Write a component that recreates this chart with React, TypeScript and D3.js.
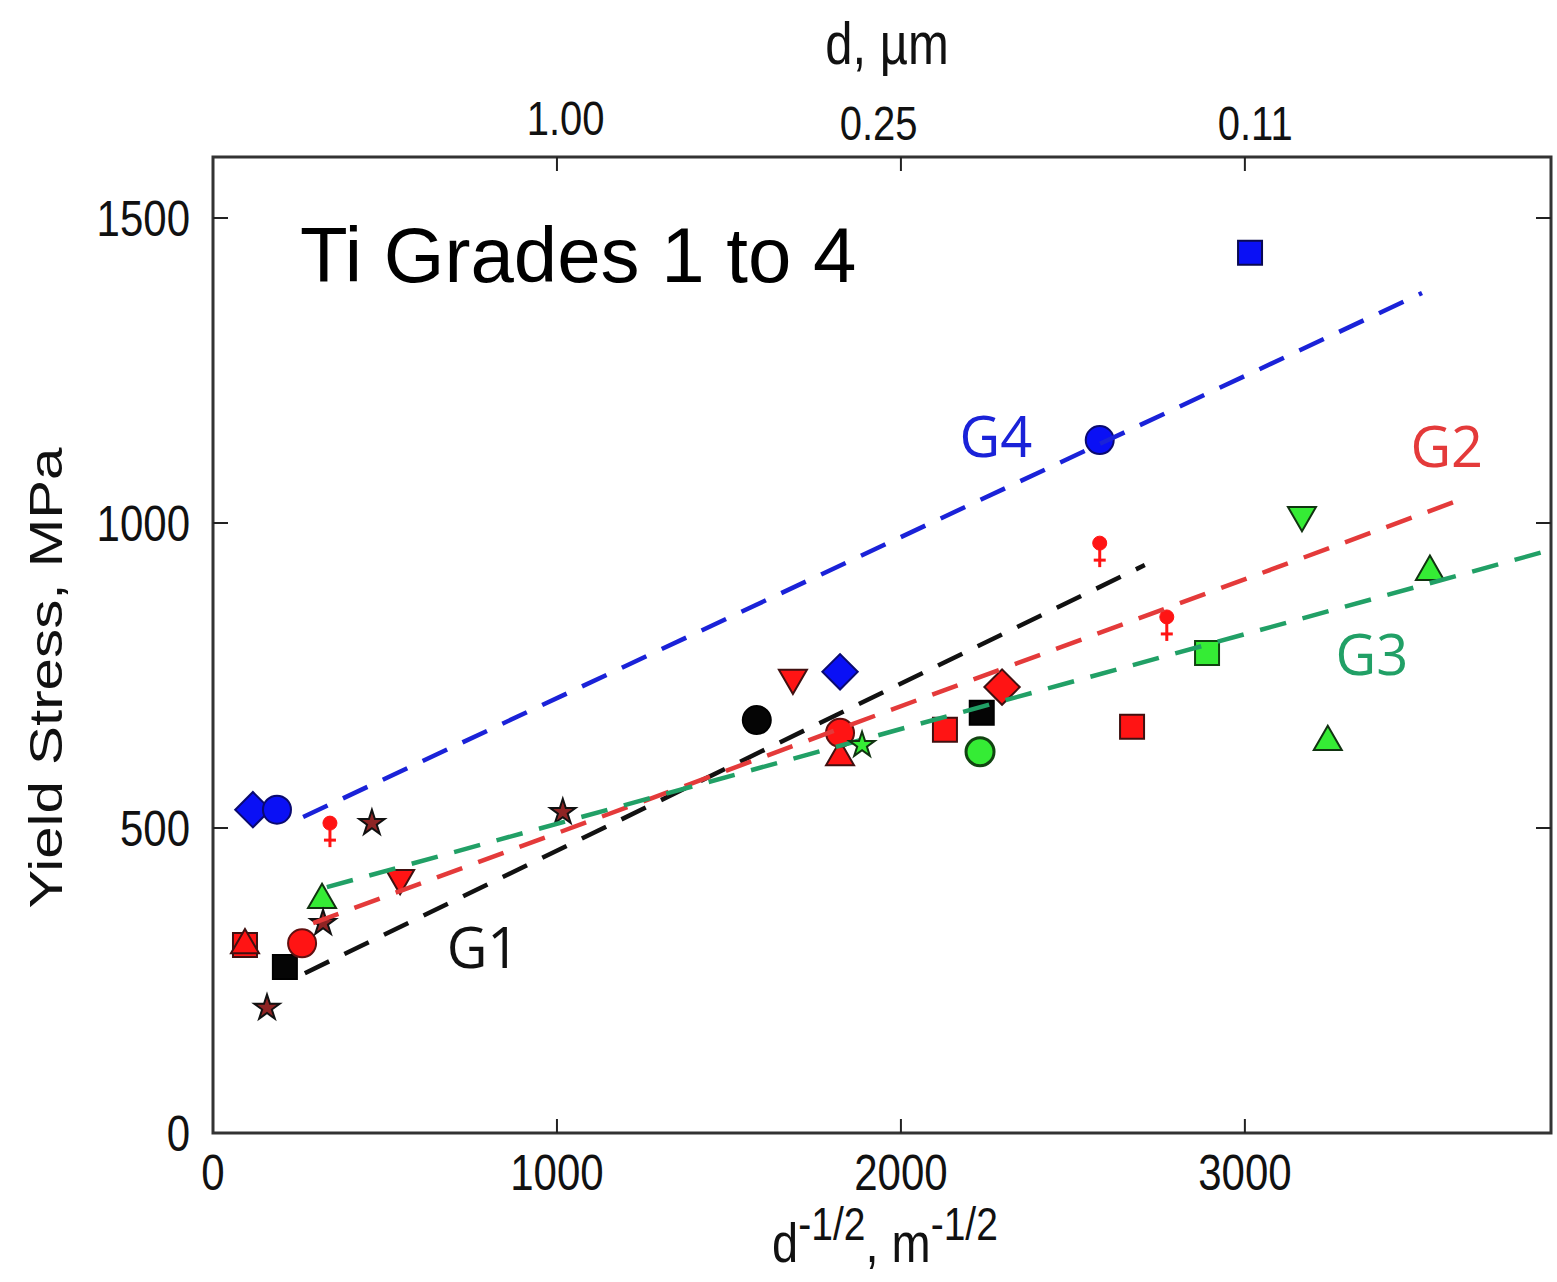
import React from "react";
import * as d3 from "d3";

// ---------- data ----------
const xTicks = [0, 1000, 2000, 3000];
const yTicks = [0, 500, 1000, 1500];
const topTicks = [1000, 2000, 3000];
const topTickLabels = ["1.00", "0.25", "0.11"];
const topLabelPos = [1025, 1935, 3030];

const blueDiamonds = [[116, 530], [1823, 756]];
const blueCircles = [[186, 530], [2578, 1136]];
const blueSquares = [[3015, 1443]];
const redFemale = [[340, 508], [2578, 967], [2773, 846]];
const brownStars = [[462, 508], [157, 205], [320, 344], [1017, 526]];
const greenStars = [[1887, 636]];
const greenTriangles = [[317, 382], [3241, 641], [3538, 920]];
const greenDownTriangles = [[3166, 1013]];
const redDownTriangles = [[544, 418], [1686, 746]];
const redSquares = [[93, 308], [2128, 661], [2672, 666]];
const redTriangles = [[93, 308], [1823, 616]];
const redCircles = [[259, 311], [1823, 656]];
const blackSquares = [[209, 272], [2235, 689]];
const blackCircles = [[1581, 677]];
const greenCircles = [[2230, 625]];
const greenSquares = [[2890, 787]];
const redDiamonds = [[2294, 731]];

const lineG4 = [[262, 518], [3515, 1377]];
const lineG2 = [[291, 344], [3640, 1041]];
const lineG1 = [[267, 262], [2709, 931]];
const lineG3 = [[331, 403], [3890, 956]];

const W = 1557, H = 1282;

export default function App() {
  const x = d3.scaleLinear().domain([0, 3890]).range([213, 1551]);
  const y = d3.scaleLinear().domain([0, 1600]).range([1133, 157]);
  const line = d3.line<number[]>().x(d => x(d[0])).y(d => y(d[1]));

  const sym = (type: any, size: number) => d3.symbol().type(type).size(size)() as string;
  const squarePath = sym(d3.symbolSquare, 24 * 24);
  const circlePath = sym(d3.symbolCircle, Math.PI * 14 * 14);
  const diamondPath = sym(d3.symbolSquare, 25 * 25);
  const triPath = sym(d3.symbolTriangle, 340);
  const starPath = sym(d3.symbolStar, 200);

  const RED = "#ff1414", BLUE = "#0a10f5", GREEN = "#35ec35", BLACK = "#050505", BROWN = "#8e2424";

  const marks = (data: number[][], path: string, fill: string, stroke: string, rot = 0, sw = 2) =>
    data.map((d, i) => (
      <path key={i} d={path} fill={fill} stroke={stroke} strokeWidth={sw}
        transform={`translate(${x(d[0])},${y(d[1])}) rotate(${rot})`} />
    ));

  const female = (data: number[][]) =>
    data.map((d, i) => (
      <g key={i} transform={`translate(${x(d[0])},${y(d[1])})`} stroke={RED} fill={RED}>
        <circle r={7} />
        <line x1={0} y1={6} x2={0} y2={24} strokeWidth={3} />
        <line x1={-6} y1={17} x2={6} y2={17} strokeWidth={3} />
      </g>
    ));

  const dash = "27 17";
  const axisFont = "'Liberation Sans', Arial, sans-serif";
  const labFont = "'Open Sans', 'Noto Sans', sans-serif";
  const SY = 1.2;

  const T = (px: number, py: number, s: string, anchor: string, size: number, key?: string) => (
    <text key={key} transform={`translate(${px},${py}) scale(1,${SY})`} textAnchor={anchor}
      fontFamily={axisFont} fontSize={size} fill="#111">{s}</text>
  );

  return (
    <svg width={W} height={H} style={{ position: "absolute", left: 0, top: 0, background: "#fff" }}>
      {/* plot frame */}
      <rect x={213} y={157} width={1551 - 213} height={1133 - 157} fill="none" stroke="#333" strokeWidth={3} />
      {xTicks.filter(t => t > 0).map(t => (
        <line key={"b" + t} x1={x(t)} x2={x(t)} y1={1133} y2={1119} stroke="#222" strokeWidth={2} />
      ))}
      {topTicks.map(t => (
        <line key={"t" + t} x1={x(t)} x2={x(t)} y1={157} y2={171} stroke="#222" strokeWidth={2} />
      ))}
      {yTicks.filter(t => t > 0).map(t => (
        <g key={"y" + t}>
          <line x1={213} x2={228} y1={y(t)} y2={y(t)} stroke="#222" strokeWidth={2} />
          <line x1={1551} x2={1536} y1={y(t)} y2={y(t)} stroke="#222" strokeWidth={2} />
        </g>
      ))}
      {/* tick labels */}
      {xTicks.map(t => T(x(t), 1190, String(t), "middle", 42, "xl" + t))}
      {yTicks.map(t => T(190, y(t) + 18, String(t), "end", 42, "yl" + t))}
      {topTickLabels.map((s, i) => T(x(topLabelPos[i]), i === 0 ? 135 : 140, s, "middle", 40, "tl" + i))}

      {/* axis titles */}
      {T(887, 64, "d, µm", "middle", 49, "dt")}
      <text transform={`translate(885,1262) scale(1,${SY})`} textAnchor="middle" fontFamily={axisFont} fontSize={47} fill="#111">
        d<tspan dy={-18} fontSize={39}>-1/2</tspan><tspan dy={18}>, m</tspan><tspan dy={-18} fontSize={39}>-1/2</tspan>
      </text>
      <text transform="translate(62,678) rotate(-90) scale(1.24,1)" textAnchor="middle" fontFamily={axisFont} fontSize={47} fill="#111">Yield Stress, MPa</text>
      <text x={x(253)} y={y(1395)} fontFamily={axisFont} fontSize={78} fill="#000">Ti Grades 1 to 4</text>

      {/* markers under lines */}
      {marks(redSquares.slice(0, 1), squarePath, RED, "#401010")}
      {marks(redTriangles.slice(0, 1), triPath, RED, "#401010")}
      {marks(blackSquares, squarePath, BLACK, "#000")}
      {marks(redSquares.slice(1), squarePath, RED, "#401010")}
      {marks(redTriangles.slice(1), triPath, RED, "#401010")}
      {marks(redCircles, circlePath, RED, "#601010")}
      {marks(redDownTriangles, triPath, RED, "#401010", 180)}
      {marks(blueDiamonds, diamondPath, BLUE, "#0a0a70", 45)}
      {marks(blueCircles, circlePath, BLUE, "#0a0a70")}
      {marks(blueSquares, squarePath, BLUE, "#0a0a50")}
      {marks(blackCircles, circlePath, BLACK, "#000")}
      {marks(greenCircles, circlePath, GREEN, "#114411", 0, 3)}
      {marks(greenSquares, squarePath, GREEN, "#114411")}
      {marks(greenTriangles, triPath, GREEN, "#113311")}
      {marks(greenDownTriangles, triPath, GREEN, "#113311", 180)}
      {marks(redDiamonds, diamondPath, RED, "#401010", 45)}
      {female(redFemale)}
      {marks(brownStars, starPath, BROWN, "#111")}

      {/* fit lines */}
      <path d={line(lineG4) as string} stroke="#1a22d8" strokeWidth={4.5} strokeDasharray={dash} fill="none" />
      <path d={line(lineG1) as string} stroke="#111" strokeWidth={4.5} strokeDasharray={dash} fill="none" />
      <path d={line(lineG2) as string} stroke="#e43a3a" strokeWidth={4.5} strokeDasharray={dash} fill="none" />
      <path d={line(lineG3) as string} stroke="#21a066" strokeWidth={4.5} strokeDasharray={dash} fill="none" />

      {marks(greenStars, starPath, GREEN, "#113311")}

      {/* line labels */}
      <text x={x(2276)} y={y(1108)} textAnchor="middle" fontFamily={labFont} fontSize={56} fill="#1a22d8">G4</text>
      <text x={x(3587)} y={y(1092)} textAnchor="middle" fontFamily={labFont} fontSize={56} fill="#e43a3a">G2</text>
      <text x={x(3369)} y={y(751)} textAnchor="middle" fontFamily={labFont} fontSize={56} fill="#21a066">G3</text>
      <text x={x(785)} y={y(270)} textAnchor="middle" fontFamily={labFont} fontSize={56} fill="#111">G1</text>
    </svg>
  );
}
